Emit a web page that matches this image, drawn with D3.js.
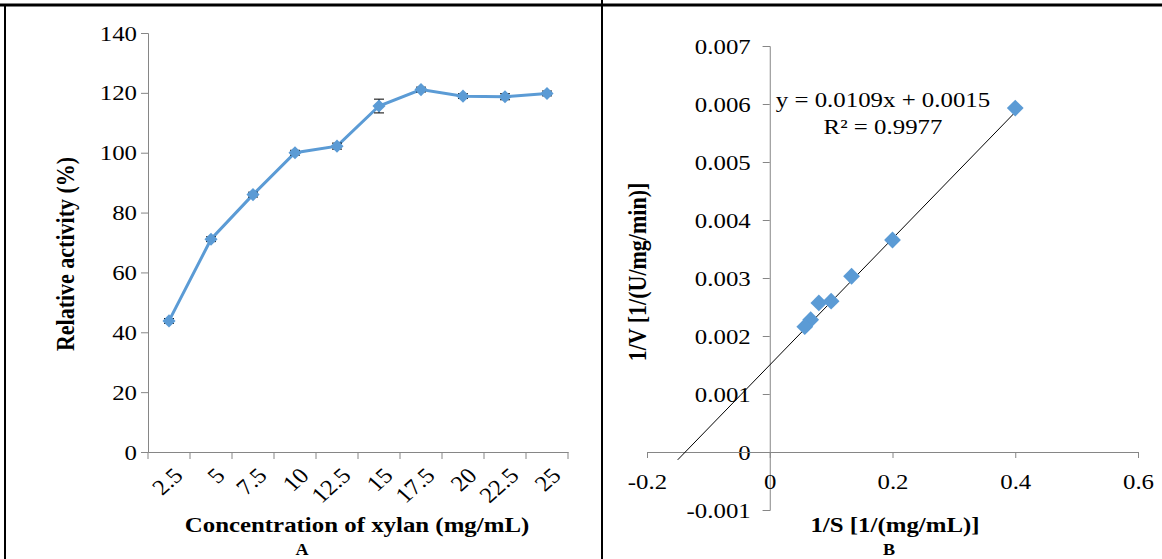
<!DOCTYPE html>
<html><head><meta charset="utf-8">
<script src="https://cdn.jsdelivr.net/npm/d3@7"></script>
<style>body{margin:0;background:#fff}svg{display:block}text{font-family:"Liberation Serif","Times New Roman",serif}</style>
</head><body>
<svg id="c" width="1162" height="559"></svg>
<script>
// Panel A data
const concLabels = ["2.5","5","7.5","10","12.5","15","17.5","20","22.5","25"];
const relActivity = [43.8, 71.1, 86.0, 100.0, 102.2, 115.6, 121.1, 118.9, 118.7, 119.8];
const relError = [0.8, 0.8, 0.8, 0.8, 1.0, 2.3, 0.8, 0.8, 1.0, 0.8];
const yTicksA = [0,20,40,60,80,100,120,140];
// Panel B data
const invS = [0.4, 0.2, 0.1333, 0.1, 0.08, 0.0667, 0.0571];
const invV = [0.00593, 0.003655, 0.00303, 0.0026, 0.00257, 0.00228, 0.00216];
const xTicksB = [-0.2, 0, 0.2, 0.4, 0.6];
const yTicksB = [-0.001,0,0.001,0.002,0.003,0.004,0.005,0.006,0.007];
const slope = 0.0109, intercept = 0.0015, fitRange = [-0.15, 0.4];

const svg = d3.select("#c");
const blue = "#5B9BD5", axisCol = "#868686";
const FS = 22, SX = 1.13;

function label(g, x, y, txt, opts={}) {
  const t = g.append("text")
    .attr("transform", `translate(${x},${y}) scale(${SX},1)` + (opts.rot ? ` rotate(${opts.rot})` : ""))
    .attr("text-anchor", opts.anchor || "middle")
    .style("font-size", (opts.size || FS) + "px")
    .attr("font-weight", opts.bold ? "bold" : "normal")
    .attr("fill", "#000")
    .text(txt);
  if (opts.dy) t.attr("dy", opts.dy);
  return t;
}
function styleAxis(a) {
  a.selectAll("path,line").attr("stroke", axisCol);
  a.selectAll("text").style("font-size", FS + "px").attr("fill", "#000")
    .style("font-family", "'Liberation Serif', serif")
    .attr("transform", `scale(${SX},1)`)
    .attr("x", function(){ return (+this.getAttribute("x") || 0) / SX; });
}
const hy = s => s.replace("\u2212", "-");

// frame
svg.append("line").attr("x1",0).attr("x2",1162).attr("y1",5).attr("y2",5).attr("stroke","#000").attr("stroke-width",3);
svg.append("line").attr("x1",5).attr("x2",5).attr("y1",5).attr("y2",559).attr("stroke","#000").attr("stroke-width",2);
svg.append("line").attr("x1",602).attr("x2",602).attr("y1",0).attr("y2",559).attr("stroke","#000").attr("stroke-width",2);

// ---------- Panel A ----------
const xA = d3.scaleBand().domain(concLabels).range([148,568]);
const yA = d3.scaleLinear().domain([0,140]).range([452,33]);
const gA = svg.append("g");
const yAxA = gA.append("g").attr("transform","translate(148,0)")
  .call(d3.axisLeft(yA).tickValues(yTicksA).tickSize(7).tickPadding(4).tickFormat(d3.format("d")));
styleAxis(yAxA);
const xAxA = gA.append("g").attr("transform","translate(0,452)")
  .call(d3.axisBottom(xA).tickSize(0).tickFormat(""));
styleAxis(xAxA);
const bounds = concLabels.map(c=>xA(c)).concat([xA.range()[1]]);
gA.selectAll(".bt").data(bounds).enter().append("line")
  .attr("x1",d=>d).attr("x2",d=>d).attr("y1",452).attr("y2",459).attr("stroke",axisCol);
concLabels.forEach(c => label(gA, xA(c)+xA.bandwidth()/2+3, 466, c, {anchor:"end", rot:-45, dy:"0.7em"}));
// line
const ptsA = concLabels.map((c,i)=>[xA(c)+xA.bandwidth()/2, yA(relActivity[i])]);
gA.append("path").attr("d",d3.line()(ptsA)).attr("fill","none").attr("stroke",blue).attr("stroke-width",3);
// error bars
concLabels.forEach((c,i)=>{
  const x = xA(c)+xA.bandwidth()/2, y1=yA(relActivity[i]-relError[i]), y2=yA(relActivity[i]+relError[i]);
  gA.append("line").attr("x1",x).attr("x2",x).attr("y1",y1).attr("y2",y2).attr("stroke","#000");
  [y1,y2].forEach(y=>gA.append("line").attr("x1",x-5).attr("x2",x+5).attr("y1",y).attr("y2",y).attr("stroke","#000"));
});
gA.selectAll(".mk").data(ptsA).enter().append("path")
  .attr("transform",d=>`translate(${d[0]},${d[1]})`)
  .attr("d",d3.symbol(d3.symbolDiamond2,110)).attr("fill",blue);
label(gA, 74, 254, "Relative activity (%)", {rot:-90, bold:true});
label(gA, 357, 532, "Concentration of xylan (mg/mL)", {bold:true});
label(gA, 302, 555, "A", {bold:true, size:16});

// ---------- Panel B ----------
const xB = d3.scaleLinear().domain([-0.2,0.6]).range([647,1138]);
const yB = d3.scaleLinear().domain([-0.001,0.007]).range([510,46]);
const gB = svg.append("g");
const yAxB = gB.append("g").attr("transform",`translate(${xB(0)},0)`)
  .call(d3.axisLeft(yB).tickValues(yTicksB).tickSize(7).tickPadding(12).tickFormat(d=>d===0?"0":hy(d3.format(".3f")(d))));
styleAxis(yAxB);
const xAxB = gB.append("g").attr("transform",`translate(0,${yB(0)})`)
  .call(d3.axisBottom(xB).tickValues(xTicksB).tickSize(6).tickPadding(0).tickFormat(d=>d===0?"0":hy(d3.format(".1f")(d))));
styleAxis(xAxB);
xAxB.selectAll("text").attr("y",21).attr("dy","0.71em");
// trendline
gB.append("line").attr("x1",xB(fitRange[0])).attr("y1",yB(slope*fitRange[0]+intercept))
  .attr("x2",xB(fitRange[1])).attr("y2",yB(slope*fitRange[1]+intercept)).attr("stroke","#000").attr("stroke-width",1);
gB.selectAll(".mk").data(invS).enter().append("path")
  .attr("transform",(d,i)=>`translate(${xB(d)},${yB(invV[i])})`)
  .attr("d",d3.symbol(d3.symbolDiamond2,180)).attr("fill",blue);
label(gB, 883, 107, `y = ${slope}x + ${intercept}`);
label(gB, 883, 134, "R² = 0.9977");
label(gB, 646, 272, "1/V [1/(U/mg/min)]", {rot:-90, bold:true});
label(gB, 895, 532, "1/S [1/(mg/mL)]", {bold:true});
label(gB, 889, 555, "B", {bold:true, size:16});
</script>
</body></html>
